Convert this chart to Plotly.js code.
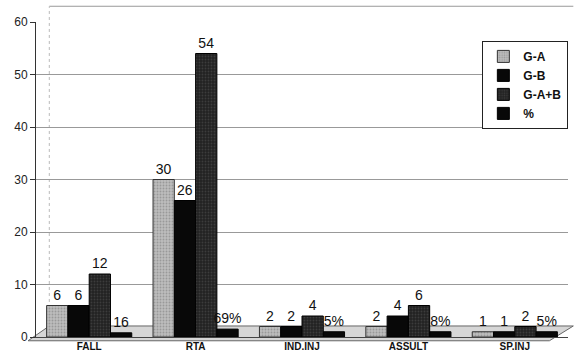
<!DOCTYPE html>
<html><head><meta charset="utf-8">
<script src="https://cdn.plot.ly/plotly-3.0.1.min.js"></script>
<style>html,body{margin:0;padding:0;background:#fff}#c{width:574px;height:362px}</style>
</head><body><div id="c"></div>
<script>
const categories = ["FALL", "RTA", "IND.INJ", "ASSULT", "SP.INJ"];
const gA = [6, 30, 2, 2, 1];
const gB = [6, 26, 2, 4, 1];
const gAB = [12, 54, 4, 6, 2];
const pctBar = [0.8, 1.5, 1, 1, 1];
const pctLabels = ["16", "69%", "5%", "8%", "5%"];

const lbl = a => a.map(String);
const font = "Liberation Sans, Arial";
const common = {type: "bar", x: categories, textposition: "outside", cliponaxis: false,
  constraintext: "none",
  textfont: {family: font, size: 14, color: "#111"}};

const traces = [
  Object.assign({}, common, {name: "G-A", y: gA, text: lbl(gA),
    marker: {color: "#b4b4b4", line: {color: "#333", width: 1},
      pattern: {shape: ".", fgcolor: "#999", bgcolor: "#bdbdbd", size: 3, solidity: 0.3}}}),
  Object.assign({}, common, {name: "G-B", y: gB, text: lbl(gB),
    marker: {color: "#080808", line: {color: "#000", width: 1}}}),
  Object.assign({}, common, {name: "G-A+B", y: gAB, text: lbl(gAB),
    marker: {color: "#262626", line: {color: "#000", width: 1},
      pattern: {shape: ".", fgcolor: "#3c3c3c", bgcolor: "#222", size: 3, solidity: 0.3}}}),
  Object.assign({}, common, {name: "%", y: pctBar, text: pctLabels,
    marker: {color: "#080808", line: {color: "#000", width: 1}}})
];

const layout = {
  width: 574, height: 362,
  margin: {l: 36, r: 6, t: 22, b: 25},
  paper_bgcolor: "#fff", plot_bgcolor: "#fff",
  barmode: "group", bargap: 0.2, bargroupgap: 0,
  showlegend: true,
  legend: {x: 0.839, y: 0.94, xanchor: "left", yanchor: "top", bgcolor: "#fff",
    bordercolor: "#222", borderwidth: 1, tracegroupgap: 0,
    font: {family: font, size: 12, color: "#111", weight: "bold"}},
  xaxis: {showgrid: false, showline: true, linecolor: "#444", linewidth: 1,
    tickfont: {family: font, size: 10, color: "#111", weight: "bold"}},
  yaxis: {range: [0, 60], dtick: 10, showgrid: true, gridcolor: "#999", gridwidth: 1,
    showline: true, linecolor: "#333", ticks: "outside", ticklen: 5, tickcolor: "#333",
    zeroline: false,
    tickfont: {family: font, size: 12, color: "#222"}},
  shapes: [
    {type: "path", xref: "paper", yref: "paper", layer: "below",
     path: "M -0.015 -0.012 L 0.965 -0.012 L 1.01 0.035 L 0.025 0.035 Z",
     fillcolor: "#d6d6d6", line: {color: "#666", width: 1}},
    {type: "line", xref: "paper", yref: "paper", layer: "below",
     x0: 0.025, x1: 1.01, y0: 1.05, y1: 1.05, line: {color: "#999", width: 1}},
    {type: "line", xref: "paper", yref: "paper", layer: "below",
     x0: 0.025, x1: 0.025, y0: 0.035, y1: 1.05, line: {color: "#bbb", width: 1, dash: "dot"}}
  ]
};

Plotly.newPlot("c", traces, layout, {displayModeBar: false, staticPlot: true});
</script>
</body></html>
